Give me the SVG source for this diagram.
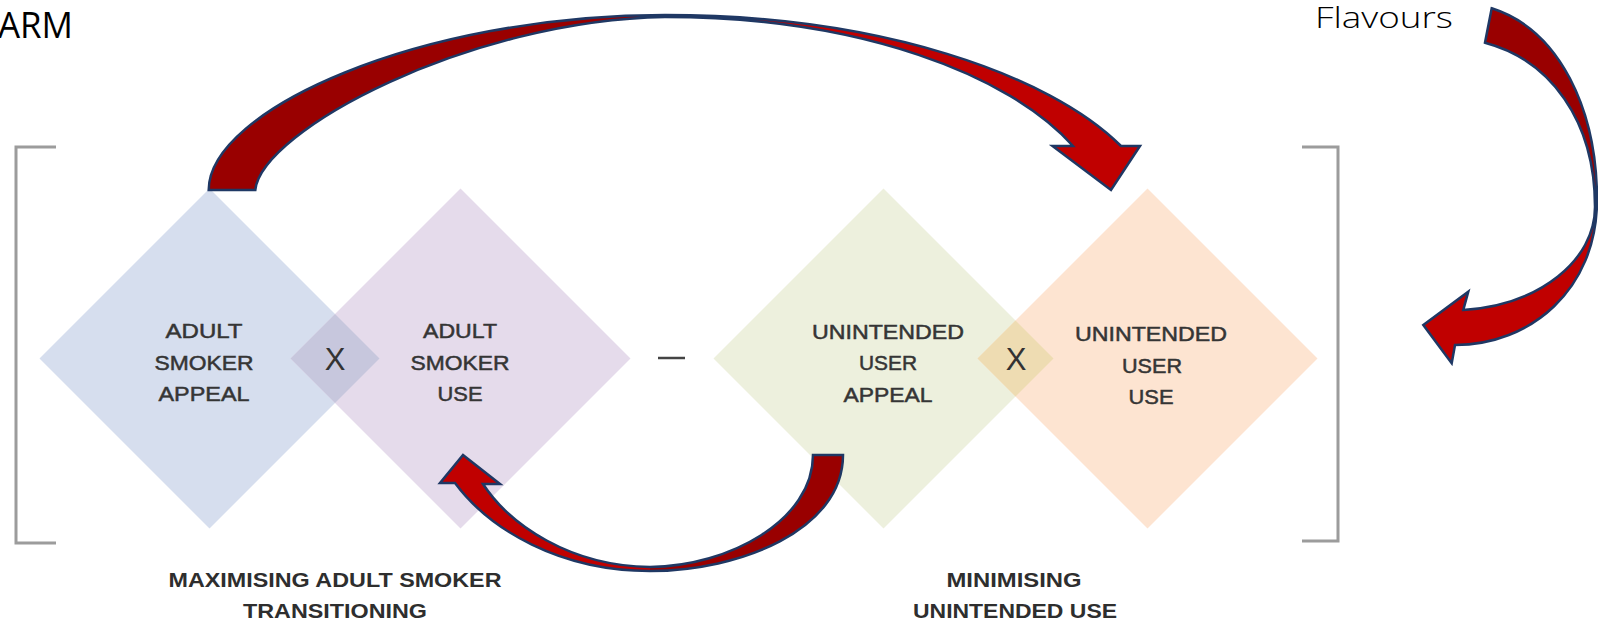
<svg xmlns="http://www.w3.org/2000/svg" width="1598" height="623" viewBox="0 0 1598 623">
<defs>
<style>
.lbl{font-family:"Liberation Sans",Arial,sans-serif;font-size:21px;fill:#353535;stroke:#353535;stroke-width:0.5;text-anchor:middle}
.x{font-family:"Liberation Sans",Arial,sans-serif;font-size:31px;fill:#333;text-anchor:middle}
.cap{font-family:"Liberation Sans",Arial,sans-serif;font-size:21px;font-weight:bold;fill:#2e2e2e;text-anchor:middle}
.title{font-family:"Open Sans","Liberation Sans",sans-serif;fill:#000}
.brk{fill:none;stroke:#9c9c9c;stroke-width:3}
.arr{stroke:#1f3864;stroke-width:2.5;stroke-linejoin:miter}
</style>
<linearGradient id="gTop" gradientUnits="userSpaceOnUse" x1="208" y1="0" x2="1140" y2="0">
<stop offset="0" stop-color="#990000"/><stop offset="0.49" stop-color="#990000"/><stop offset="0.49" stop-color="#c00000"/><stop offset="1" stop-color="#c00000"/>
</linearGradient>
<linearGradient id="gBot" gradientUnits="userSpaceOnUse" x1="440" y1="0" x2="843" y2="0">
<stop offset="0" stop-color="#c00000"/><stop offset="0.52" stop-color="#c00000"/><stop offset="0.52" stop-color="#990000"/><stop offset="1" stop-color="#990000"/>
</linearGradient>
<linearGradient id="gRight" gradientUnits="userSpaceOnUse" x1="0" y1="8" x2="0" y2="363">
<stop offset="0" stop-color="#990000"/><stop offset="0.555" stop-color="#990000"/><stop offset="0.555" stop-color="#c00000"/><stop offset="1" stop-color="#c00000"/>
</linearGradient>
</defs>
<rect width="1598" height="623" fill="#fff"/>

<g id="title-arm"><text class="title" x="-2" y="38" font-size="36" textLength="75" lengthAdjust="spacingAndGlyphs">ARM</text></g>
<g id="title-flavours"><text class="title" x="1315" y="28" font-size="29" font-weight="300" textLength="138" lengthAdjust="spacingAndGlyphs">Flavours</text></g>

<g id="bracket-left"><path class="brk" d="M56,147 H16 V543 H56"/></g>
<g id="bracket-right"><path class="brk" d="M1302,147 H1338 V541 H1302"/></g>

<g id="node-adult-smoker-appeal">
<polygon points="209.5,188.5 379.5,358.5 209.5,528.5 39.5,358.5" fill="#d6deee"/>
</g>
<g id="node-adult-smoker-use">
<polygon points="460.5,188.5 630.5,358.5 460.5,528.5 290.5,358.5" fill="#e5dbeb"/>
</g>
<g id="overlap-adult">
<polygon points="335,314 379.5,358.5 335,403 290.5,358.5" fill="#c7c7dd"/>
<text class="x" x="335" y="370">X</text>
</g>
<g id="labels-adult">
<text class="lbl" x="204" y="338" textLength="77" lengthAdjust="spacingAndGlyphs">ADULT</text>
<text class="lbl" x="204" y="370" textLength="99" lengthAdjust="spacingAndGlyphs">SMOKER</text>
<text class="lbl" x="204" y="401" textLength="91" lengthAdjust="spacingAndGlyphs">APPEAL</text>
<text class="lbl" x="460" y="338" textLength="74" lengthAdjust="spacingAndGlyphs">ADULT</text>
<text class="lbl" x="460" y="370" textLength="99" lengthAdjust="spacingAndGlyphs">SMOKER</text>
<text class="lbl" x="460" y="401" textLength="45" lengthAdjust="spacingAndGlyphs">USE</text>
</g>

<g id="minus"><line x1="658" y1="358" x2="685" y2="358" stroke="#444" stroke-width="2.5"/></g>

<g id="node-unintended-user-appeal">
<polygon points="883.5,188.5 1053.5,358.5 883.5,528.5 713.5,358.5" fill="#edf0dd"/>
</g>
<g id="node-unintended-user-use">
<polygon points="1147.5,188.5 1317.5,358.5 1147.5,528.5 977.5,358.5" fill="#fde4d1"/>
</g>
<g id="overlap-unintended">
<polygon points="1015.5,320.5 1053.5,358.5 1015.5,396.5 977.5,358.5" fill="#eedcb2"/>
<text class="x" x="1016" y="370">X</text>
</g>
<g id="labels-unintended">
<text class="lbl" x="888" y="339" textLength="152" lengthAdjust="spacingAndGlyphs">UNINTENDED</text>
<text class="lbl" x="888" y="370" textLength="58" lengthAdjust="spacingAndGlyphs">USER</text>
<text class="lbl" x="888" y="402" textLength="89" lengthAdjust="spacingAndGlyphs">APPEAL</text>
<text class="lbl" x="1151" y="341" textLength="152" lengthAdjust="spacingAndGlyphs">UNINTENDED</text>
<text class="lbl" x="1152" y="373" textLength="60" lengthAdjust="spacingAndGlyphs">USER</text>
<text class="lbl" x="1151" y="404" textLength="45" lengthAdjust="spacingAndGlyphs">USE</text>
</g>

<g id="caption-left">
<text class="cap" x="335" y="587" textLength="333" lengthAdjust="spacingAndGlyphs">MAXIMISING ADULT SMOKER</text>
<text class="cap" x="335" y="618" textLength="184" lengthAdjust="spacingAndGlyphs">TRANSITIONING</text>
</g>
<g id="caption-right">
<text class="cap" x="1014" y="587" textLength="135" lengthAdjust="spacingAndGlyphs">MINIMISING</text>
<text class="cap" x="1015" y="618" textLength="204" lengthAdjust="spacingAndGlyphs">UNINTENDED USE</text>
</g>

<g id="connectors">
<path class="arr" fill="url(#gTop)" d="M208.7,190 C208.7,110 420,15 665,15 C880,15 1050,75 1121,146 L1140,146 L1111,190 L1052.5,146 L1073,146 C1010,75 860,17 665,17 C470,20 262,130 255.3,190 Z"/>
<path class="arr" fill="url(#gBot)" d="M843,455 C843,530 740,571 650,571 C560,571 490,530 455,483 L440,483 L463,455 L500,484 L483,484 C510,525 570,566 650,567 C730,566 813,520 813,455 Z"/>
<path class="arr" fill="url(#gRight)" d="M1491.7,8.3 C1560,30 1597,110 1597,200 C1597,290 1530,345 1455,345 L1451.7,363.3 L1423.3,325 L1468.3,291.7 L1463.3,310 C1540,305 1595,260 1595,207 C1595,120 1550,60 1485,42.7 Z"/>
</g>
</svg>
